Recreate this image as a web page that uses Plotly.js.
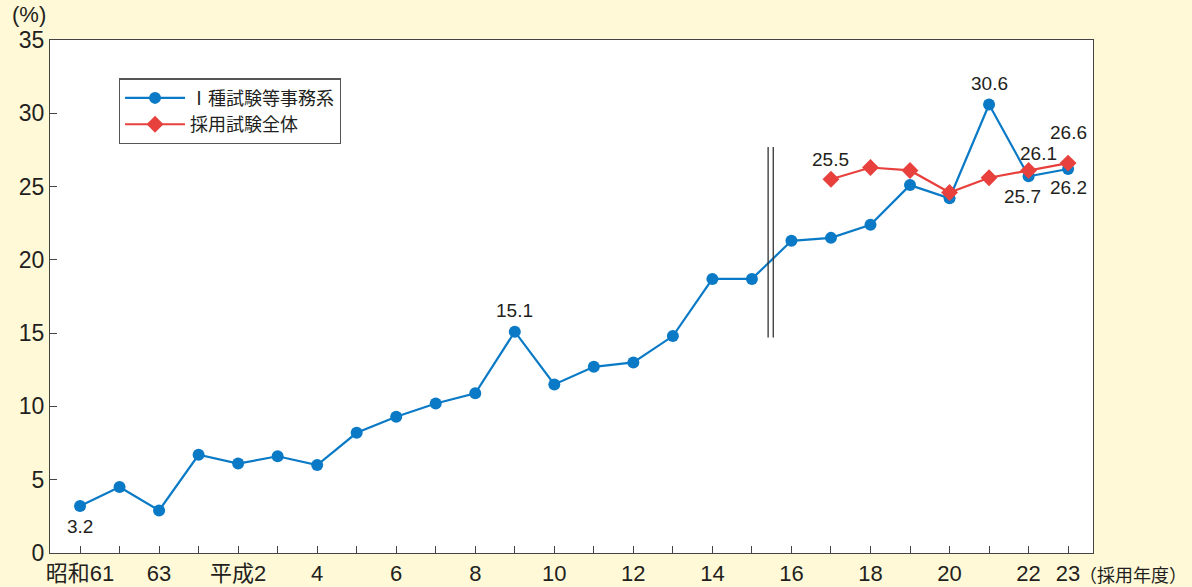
<!DOCTYPE html>
<html>
<head>
<meta charset="utf-8">
<script src="https://cdn.plot.ly/plotly-3.0.1.min.js"></script>
<style>
  html, body { margin: 0; padding: 0; background: #fff9d8; }
  #chart { width: 1192px; height: 587px; }
</style>
</head>
<body>
<div id="chart"></div>
<script>
// 採用年度 (昭和61年度〜平成23年度)
const years = ["昭和61","62","63","平成元","2","3","4","5","6","7","8","9","10",
               "11","12","13","14","15","16","17","18","19","20","21","22","23"];
// 軸に表示する年度ラベル
const tickLabels = ["昭和61","","63","","平成2","","4","","6","","8","","10",
                    "","12","","14","","16","","18","","20","","22","23"];

// Ⅰ種試験等事務系 (%)
const type1Admin = [3.2, 4.5, 2.9, 6.7, 6.1, 6.6, 6.0, 8.2, 9.3, 10.2, 10.9, 15.1, 11.5,
                    12.7, 13.0, 14.8, 18.7, 18.7, 21.3, 21.5, 22.4, 25.1, 24.2, 30.6, 25.7, 26.2];
// 採用試験全体 (%), 平成17年度から
const allExamYears = ["17","18","19","20","21","22","23"];
const allExams = [25.5, 26.3, 26.1, 24.6, 25.6, 26.1, 26.6];

const idx = years.map((_, i) => i);
const allIdx = allExamYears.map(y => years.lastIndexOf(y));

const blue = "#0a7ac6";
const red = "#e8403d";
const txt = "#231f20";
const jpFont = "'Liberation Sans', 'Noto Sans CJK JP', sans-serif";
const cjkFont = "'Noto Sans CJK JP', sans-serif";

const traces = [
  {
    x: idx, y: type1Admin, name: "Ⅰ種試験等事務系",
    mode: "lines+markers", type: "scatter",
    line: { color: blue, width: 2.2 },
    marker: { color: blue, size: 12, symbol: "circle" }
  },
  {
    x: allIdx, y: allExams, name: "採用試験全体",
    mode: "lines+markers", type: "scatter",
    line: { color: red, width: 2.2 },
    marker: { color: red, size: 13, symbol: "diamond" }
  }
];

// 値ラベル
function label(xi, yv, ax, ay) {
  return {
    x: xi, y: yv, xref: "x", yref: "y", text: yv.toFixed(1),
    showarrow: true, arrowcolor: "rgba(0,0,0,0)", ax: ax, ay: ay,
    font: { family: jpFont, size: 19, color: txt }
  };
}
const iOf = y => years.lastIndexOf(y);

const annotations = [
  label(0, type1Admin[0], 0, 20),
  label(iOf("9"), type1Admin[iOf("9")], 0, -21),
  label(iOf("21"), type1Admin[iOf("21")], 0, -21),
  label(iOf("22"), type1Admin[iOf("22")], -6, 20),
  label(iOf("23"), type1Admin[iOf("23")], 0, 19),
  label(allIdx[0], allExams[0], 0, -20),
  label(allIdx[5], allExams[5], 10, -17),
  label(allIdx[6], allExams[6], 0, -31),
  {
    // 縦軸の単位
    xref: "paper", yref: "paper", x: 0, y: 1, xanchor: "center", yanchor: "bottom",
    xshift: -21, yshift: 11,
    text: "(%)", showarrow: false, font: { family: jpFont, size: 22, color: txt }
  },
  {
    // 横軸の単位 (右端に寄せる)
    xref: "paper", yref: "paper", x: 1.092, y: 0, xanchor: "right", yanchor: "top",
    yshift: -6,
    text: "（採用年度）", showarrow: false, font: { family: cjkFont, size: 18, color: txt }
  }
];

// 年度区分の二重線 (平成15年度と16年度の間)
const breakX = [17.41, 17.54];
const shapes = breakX.map(bx => ({
  type: "line", xref: "x", yref: "y", x0: bx, x1: bx, y0: 14.7, y1: 27.7,
  line: { color: "#333333", width: 1.3 }
}));

const layout = {
  width: 1192, height: 587,
  paper_bgcolor: "#fff9d8", plot_bgcolor: "#ffffff",
  margin: { l: 50, r: 99, t: 40, b: 34 },
  font: { family: jpFont, color: txt },
  showlegend: true,
  legend: {
    x: 0.066, y: 0.925, xanchor: "left", yanchor: "top",
    bgcolor: "#ffffff", bordercolor: "#555555", borderwidth: 1.2,
    font: { family: jpFont, size: 18, color: txt },
    itemwidth: 60, tracegroupgap: 4
  },
  xaxis: {
    range: [-0.76, 25.63], tickmode: "array", tickvals: idx, ticktext: tickLabels,
    ticks: "inside", ticklen: 7, tickcolor: "#444", tickwidth: 1,
    showline: true, linecolor: "#444", linewidth: 1.3, mirror: true,
    showgrid: false, zeroline: false,
    tickfont: { family: jpFont, size: 22, color: txt }
  },
  yaxis: {
    range: [0, 35], tickvals: [0, 5, 10, 15, 20, 25, 30, 35],
    ticks: "inside", ticklen: 7, tickcolor: "#444", tickwidth: 1,
    showline: true, linecolor: "#444", linewidth: 1.3, mirror: true,
    showgrid: false, zeroline: false,
    tickfont: { family: jpFont, size: 23, color: txt }
  },
  shapes: shapes,
  annotations: annotations
};

Plotly.newPlot("chart", traces, layout, { displayModeBar: false });
</script>
</body>
</html>
